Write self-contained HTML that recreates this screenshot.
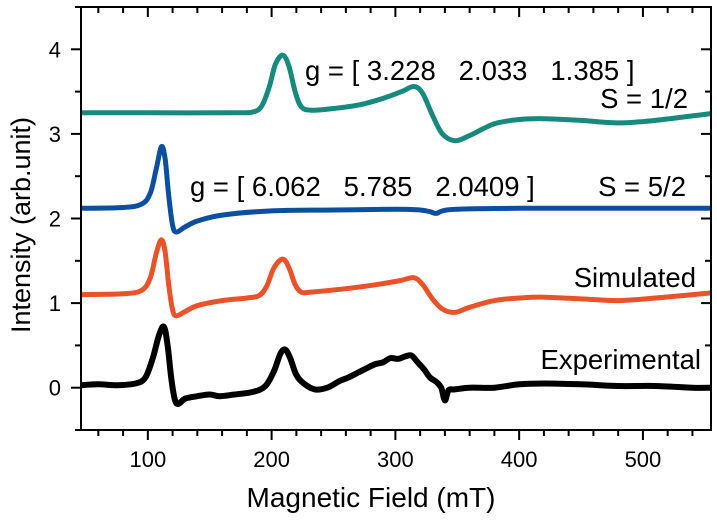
<!DOCTYPE html>
<html><head><meta charset="utf-8"><style>
html,body{margin:0;padding:0;background:#fff;}
svg{display:block;font-family:"Liberation Sans",Arial,sans-serif;}
</style></head><body>
<svg id="chart" width="717" height="523" viewBox="0 0 717 523">
<g id="plot"></g>
<g id="axes"></g>
<text x="305" y="80" font-size="27.5" style="white-space:pre">g = [ 3.228   2.033   1.385 ]</text>
<text x="688" y="108" font-size="27.5" text-anchor="end">S = 1/2</text>
<text x="190" y="196" font-size="27.5" style="white-space:pre">g = [ 6.062   5.785   2.0409 ]</text>
<text x="686" y="196" font-size="27.5" text-anchor="end">S = 5/2</text>
<text x="696" y="287" font-size="27.5" text-anchor="end">Simulated</text>
<text x="701" y="369" font-size="27.5" text-anchor="end">Experimental</text>
<text x="371" y="507" font-size="28" text-anchor="middle">Magnetic Field (mT)</text>
<text transform="translate(30,225) rotate(-90)" font-size="27" text-anchor="middle">Intensity (arb.unit)</text>
</svg>
<script>
const xTicks=[100,200,300,400,500];
const yTicks=[0,1,2,3,4];
const tealX=[46,100,170,185,192,198,203,209,214,219,224,232,250,270,290,305,315,322,330,338,348,360,380,400,420,450,480,510,555];
const tealY=[3.25,3.25,3.25,3.26,3.33,3.55,3.82,3.93,3.8,3.5,3.32,3.28,3.3,3.34,3.42,3.5,3.56,3.48,3.22,3.0,2.92,2.98,3.12,3.17,3.18,3.16,3.13,3.16,3.24];
const blueX=[46,80,95,102,107,111,114,117,120,123,130,140,160,200,250,300,320,328,333,338,350,400,555];
const blueY=[2.12,2.13,2.17,2.3,2.6,2.85,2.7,2.25,1.92,1.84,1.9,1.97,2.04,2.09,2.1,2.11,2.1,2.08,2.06,2.09,2.11,2.12,2.12];
const redX=[46,80,95,102,107,111,114,117,120,123,130,140,160,180,190,196,202,209,214,219,224,232,260,290,305,315,322,330,338,348,360,380,400,420,450,480,510,555];
const redY=[1.1,1.11,1.15,1.3,1.6,1.75,1.6,1.2,0.92,0.85,0.9,0.97,1.03,1.06,1.09,1.2,1.42,1.52,1.42,1.22,1.13,1.13,1.17,1.23,1.27,1.3,1.22,1.05,0.93,0.89,0.95,1.03,1.06,1.07,1.05,1.03,1.06,1.12];
const blackX=[46,60,75,90,98,104,109,113,116,119,122,125,130,140,150,158,170,185,195,202,207,211,215,220,226,235,245,255,262,270,278,284,290,296,302,308,313,318,323,328,333,337,340,343,348,360,380,400,420,450,480,510,540,555];
const blackY=[0.03,0.04,0.03,0.05,0.12,0.35,0.62,0.72,0.5,0.1,-0.15,-0.19,-0.13,-0.1,-0.08,-0.1,-0.08,-0.05,0.02,0.2,0.4,0.45,0.35,0.15,0.05,-0.02,0.0,0.08,0.12,0.18,0.24,0.28,0.3,0.35,0.34,0.37,0.38,0.3,0.22,0.12,0.07,0.0,-0.15,-0.03,-0.02,0.0,0.0,0.04,0.05,0.04,0.02,0.02,0.0,0.0];
const X0=46,X1=555,Y0=-0.5,Y1=4.5,L=81,R=711,T=7,B=430;
const sx=v=>L+(v-X0)/(X1-X0)*(R-L);
const sy=v=>B-(v-Y0)/(Y1-Y0)*(B-T);
const NS='http://www.w3.org/2000/svg';
function mk(t,a){const e=document.createElementNS(NS,t);for(const k in a)e.setAttribute(k,a[k]);return e;}
function pathD(xs,ys){
  const p=xs.map((x,i)=>[sx(x),sy(ys[i])]);
  let d='M'+p[0][0].toFixed(1)+','+p[0][1].toFixed(1);
  for(let i=0;i<p.length-1;i++){
    const p0=p[i-1]||p[i],p1=p[i],p2=p[i+1],p3=p[i+2]||p[i+1];
    const c1=[p1[0]+(p2[0]-p0[0])/6,p1[1]+(p2[1]-p0[1])/6];
    const c2=[p2[0]-(p3[0]-p1[0])/6,p2[1]-(p3[1]-p1[1])/6];
    d+='C'+c1.map(v=>v.toFixed(1))+' '+c2.map(v=>v.toFixed(1))+' '+p2.map(v=>v.toFixed(1));
  }
  return d;
}
const plot=document.getElementById('plot');
const series=[[tealX,tealY,'#17897f',5,'teal-s-half-curve'],[blueX,blueY,'#0c4f9f',5,'blue-s-five-half-curve'],[redX,redY,'#ea5229',5,'red-simulated-curve'],[blackX,blackY,'#000',6,'black-experimental-curve']];
series.forEach(s=>{
  const e=mk('path',{d:pathD(s[0],s[1]),fill:'none',stroke:s[2],'stroke-width':s[3],'stroke-linejoin':'round'});
  
  
  plot.appendChild(e);
});
const ax=document.getElementById('axes');
const fr=mk('rect',{x:L,y:T,width:R-L,height:B-T,fill:'none',stroke:'#000','stroke-width':2});


ax.appendChild(fr);
for(let v=60;v<=X1;v+=20){
  const x=sx(v),maj=v%100===0,len=maj?10:6;
  ax.appendChild(mk('line',{x1:x,x2:x,y1:B,y2:B+len,stroke:'#000','stroke-width':2}));
  ax.appendChild(mk('line',{x1:x,x2:x,y1:T,y2:T+len,stroke:'#000','stroke-width':2}));
}
xTicks.forEach(v=>{
  const t=mk('text',{x:sx(v),y:B+37,'font-size':22,'text-anchor':'middle'});t.textContent=v;
  
  
  ax.appendChild(t);
});
for(let v=-0.5;v<=4.5;v+=0.5){
  const y=sy(v),maj=Math.abs(v%1)<1e-6,len=maj?10:6;
  ax.appendChild(mk('line',{x1:L-len,x2:L,y1:y,y2:y,stroke:'#000','stroke-width':2}));
  ax.appendChild(mk('line',{x1:R-len,x2:R,y1:y,y2:y,stroke:'#000','stroke-width':2}));
}
yTicks.forEach(v=>{
  const t=mk('text',{x:L-20,y:sy(v)+8,'font-size':22,'text-anchor':'end'});t.textContent=v;
  
  
  ax.appendChild(t);
});
</script>
</body></html>
